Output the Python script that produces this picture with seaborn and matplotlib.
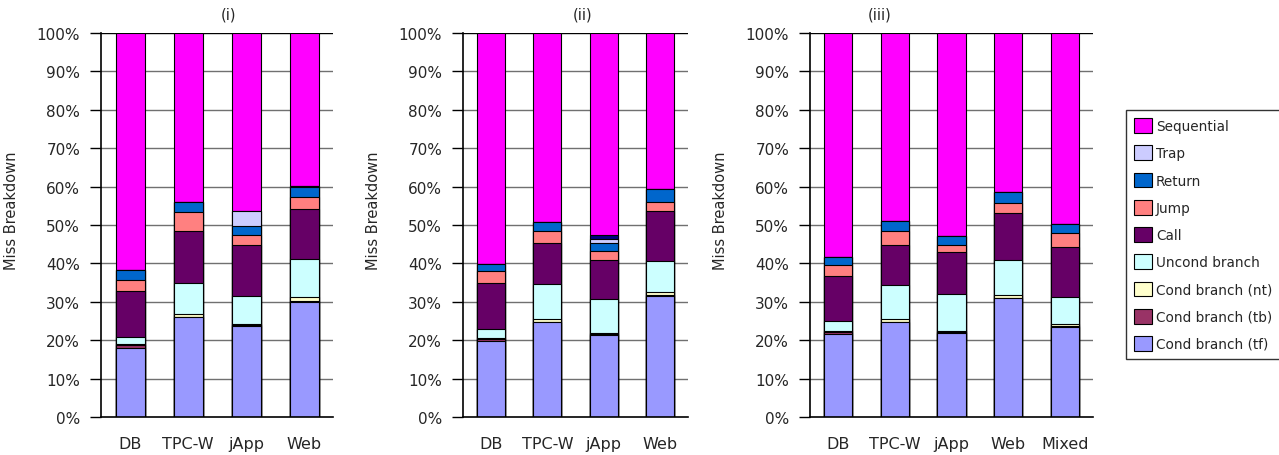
import matplotlib
matplotlib.use("Agg")
import matplotlib.pyplot as plt
import seaborn as sns
import numpy as np
from matplotlib.patches import Patch

sns.set_style("white")
plt.rcParams['font.family'] = ['DejaVu Sans']

# ---- data (percent of misses), bottom to top ----
series_names = ["Cond branch (tf)", "Cond branch (tb)", "Cond branch (nt)", "Uncond branch",
                "Call", "Jump", "Return", "Trap", "Other", "Sequential"]
series_colors = ["#9999FF", "#993366", "#FFFFCC", "#CCFFFF", "#660066", "#FF8080",
                 "#0066CC", "#CCCCFF", "#000080", "#FF00FF"]

cats_i = ["DB", "TPC-W", "jApp", "Web"]
tf_i = [18.0, 26.0, 23.6, 30.0]
tb_i = [0.7, 0.1, 0.3, 0.1]
nt_i = [0.3, 0.6, 0.3, 1.1]
uncond_i = [1.8, 8.2, 7.4, 9.9]
call_i = [12.1, 13.6, 13.2, 13.1]
jump_i = [2.9, 4.8, 2.7, 3.1]
return_i = [2.6, 2.6, 2.2, 2.5]
trap_i = [0.0, 0.0, 3.9, 0.3]
other_i = [0.0, 0.0, 0.0, 0.0]
seq_i = [61.6, 44.1, 46.4, 39.9]

cats_ii = ["DB", "TPC-W", "jApp", "Web"]
tf_ii = [19.9, 24.7, 21.4, 31.6]
tb_ii = [0.4, 0.1, 0.3, 0.1]
nt_ii = [0.2, 0.8, 0.2, 0.9]
uncond_ii = [2.3, 9.0, 8.7, 8.1]
call_ii = [12.0, 10.6, 10.4, 12.9]
jump_ii = [3.1, 3.3, 2.3, 2.3]
return_ii = [1.9, 2.4, 2.0, 3.5]
trap_ii = [0.0, 0.0, 1.1, 0.0]
other_ii = [0.0, 0.0, 1.0, 0.0]
seq_ii = [60.2, 49.1, 52.6, 40.6]

cats_iii = ["DB", "TPC-W", "jApp", "Web", "Mixed"]
tf_iii = [21.6, 24.7, 22.0, 31.0, 23.5]
tb_iii = [0.6, 0.1, 0.1, 0.1, 0.3]
nt_iii = [0.2, 0.6, 0.2, 0.8, 0.4]
uncond_iii = [2.5, 9.0, 9.7, 9.1, 7.1]
call_iii = [11.9, 10.4, 10.9, 12.1, 13.1]
jump_iii = [2.7, 3.6, 2.0, 2.6, 3.4]
return_iii = [2.1, 2.6, 2.3, 2.8, 2.4]
trap_iii = [0.0, 0.0, 0.0, 0.0, 0.0]
other_iii = [0.0, 0.0, 0.0, 0.0, 0.0]
seq_iii = [58.4, 49.0, 52.8, 41.5, 49.8]

panel_titles = ["(i)", "(ii)", "(iii)"]
y_ticks = [0, 10, 20, 30, 40, 50, 60, 70, 80, 90, 100]

panels = [
    (cats_i, [tf_i, tb_i, nt_i, uncond_i, call_i, jump_i, return_i, trap_i, other_i, seq_i]),
    (cats_ii, [tf_ii, tb_ii, nt_ii, uncond_ii, call_ii, jump_ii, return_ii, trap_ii, other_ii, seq_ii]),
    (cats_iii, [tf_iii, tb_iii, nt_iii, uncond_iii, call_iii, jump_iii, return_iii, trap_iii, other_iii, seq_iii]),
]

W, H = 1279, 456
fig = plt.figure(figsize=(W / 100, H / 100), dpi=100)

# axes placement in pixels: (left, right)
ax_px = [(101, 333), (463, 688), (810, 1093)]
bottom_px, top_px = 418, 34
title_x_px = [228, 583, 880]

for p, ((cats, layers), (l, r)) in enumerate(zip(panels, ax_px)):
    ax = fig.add_axes([l / W, 1 - bottom_px / H, (r - l) / W, (bottom_px - top_px) / H])
    cum = np.cumsum(np.array(layers, dtype=float), axis=0)
    for k in reversed(range(len(layers))):
        sns.barplot(x=cats, y=cum[k], order=cats, color=series_colors[k], saturation=1,
                    edgecolor="black", linewidth=0.8, width=0.5, errorbar=None, ax=ax)
    n = len(cats)
    ax.set_xlim(-0.5, n - 0.5)
    ax.set_ylim(0, 100)
    ax.set_axisbelow(True)
    ax.set_yticks(y_ticks)
    ax.set_yticklabels([f"{v}%" for v in y_ticks], fontsize=11)
    for v in y_ticks[1:]:
        ax.axhline(v, color="black" if v == 100 else "#707070", lw=1.0, zorder=0)
    ax.set_xticks(range(n))
    ax.set_xticklabels(cats, fontsize=11.5)
    ax.set_xticks([i - 0.5 for i in range(n)], minor=True)
    ax.tick_params(axis="x", which="major", length=0, pad=14)
    ax.tick_params(axis="x", which="minor", length=8, width=1, color="black", direction="out")
    ax.tick_params(axis="y", which="major", length=8, width=1, color="black", direction="out", pad=7,
                   left=True)
    for s in ["top", "right"]:
        ax.spines[s].set_visible(False)
    for s in ["left", "bottom"]:
        ax.spines[s].set_color("black")
        ax.spines[s].set_linewidth(1.2)
    ax.set_xlabel("")
    ax.set_ylabel("Miss Breakdown", fontsize=10.5)
    ax.yaxis.set_label_coords(-82 / (r - l), 0.54)
    fig.text(title_x_px[p] / W, 1 - 15 / H, panel_titles[p], ha="center", va="center", fontsize=10.5)

# legend (Sequential on top, excluding the unlabeled extra segment)
leg_idx = [9, 7, 6, 5, 4, 3, 2, 1, 0]
handles = [Patch(facecolor=series_colors[i], edgecolor="black", linewidth=0.8) for i in leg_idx]
labels = [series_names[i] for i in leg_idx]
leg = fig.legend(handles, labels, loc="upper left", bbox_to_anchor=(1126 / W, 1 - 111 / H),
                 frameon=True, fancybox=False, edgecolor="black", fontsize=9.8,
                 handlelength=1.3, handleheight=1.3, handletextpad=0.3, labelspacing=0.9,
                 borderpad=0.6, borderaxespad=0)
leg.get_frame().set_linewidth(1.0)

fig.savefig("out.png", dpi=100)
